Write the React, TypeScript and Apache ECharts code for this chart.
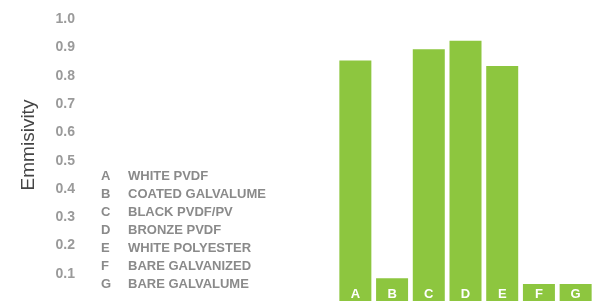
import React, { useEffect, useRef } from "react";
import * as echarts from "echarts";

const categories = ["A", "B", "C", "D", "E", "F", "G"];
const materialNames = [
  "WHITE PVDF",
  "COATED GALVALUME",
  "BLACK PVDF/PV",
  "BRONZE PVDF",
  "WHITE POLYESTER",
  "BARE GALVANIZED",
  "BARE GALVALUME",
];
const emissivity = [0.85, 0.08, 0.89, 0.92, 0.83, 0.06, 0.06];
const yAxisTitle = "Emmisivity";

const FONT = "'Liberation Sans', Arial, Helvetica, sans-serif";

export default function App() {
  const ref = useRef<HTMLDivElement>(null);
  useEffect(() => {
    if (!ref.current) return;
    const chart = echarts.init(ref.current, null, { renderer: "svg" });
    const legendItems: any[] = [];
    categories.forEach((c, i) => {
      const y = 175 + i * 18;
      legendItems.push({
        type: "text",
        x: 101,
        y,
        style: {
          text: c,
          fill: "#8a8a8a",
          font: `bold 13px ${FONT}`,
          verticalAlign: "middle",
        },
      });
      legendItems.push({
        type: "text",
        x: 128,
        y,
        style: {
          text: materialNames[i],
          fill: "#8a8a8a",
          font: `bold 13px ${FONT}`,
          verticalAlign: "middle",
        },
      });
    });
    chart.setOption({
      animation: false,
      grid: { left: 337, right: 5, top: 18, bottom: -3.5 },
      xAxis: {
        type: "category",
        data: categories,
        axisLine: { show: false },
        axisTick: { show: false },
        axisLabel: { show: false },
      },
      yAxis: {
        type: "value",
        min: 0,
        max: 1,
        interval: 0.1,
        splitLine: { show: false },
        axisLine: { show: false },
        axisTick: { show: false },
        axisLabel: {
          margin: 262,
          color: "#9a9a9a",
          fontSize: 14,
          fontWeight: "bold",
          fontFamily: FONT,
          formatter: (v: number) => (v === 0 ? "" : v.toFixed(1)),
        },
      },
      graphic: [
        {
          type: "text",
          x: 27,
          y: 145,
          rotation: Math.PI / 2,
          style: {
            text: yAxisTitle,
            fill: "#444",
            font: `19px ${FONT}`,
            align: "center",
            verticalAlign: "middle",
          },
        },
        ...legendItems,
      ],
      series: [
        {
          type: "bar",
          data: emissivity,
          barWidth: 32,
          itemStyle: { color: "#8dc63f" },
          label: {
            show: true,
            position: "insideBottom",
            distance: 1,
            formatter: "{b}",
            color: "#fff",
            fontSize: 13,
            fontWeight: "bold",
            fontFamily: FONT,
            lineHeight: 13,
          },
        },
      ],
    });
    return () => chart.dispose();
  }, []);
  return (
    <div
      ref={ref}
      style={{ position: "fixed", left: 0, top: 0, width: 599, height: 301 }}
    />
  );
}
